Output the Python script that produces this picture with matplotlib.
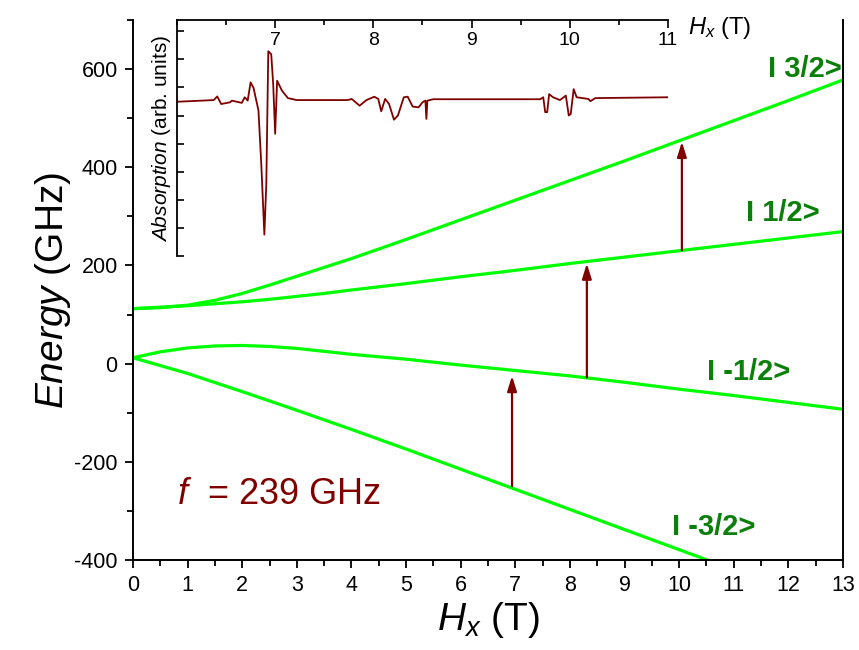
import matplotlib
matplotlib.use('Agg')
import matplotlib.pyplot as plt
from matplotlib.ticker import MultipleLocator

plt.rcParams['font.family'] = ['Liberation Sans', 'DejaVu Sans']
plt.rcParams['mathtext.fontset'] = 'custom'
plt.rcParams['mathtext.rm'] = 'Liberation Sans'
plt.rcParams['mathtext.it'] = 'Liberation Sans:italic'
plt.rcParams['axes.unicode_minus'] = False

# energy levels (GHz) vs field Hx (T)
field = [0, 0.5, 1, 1.5, 2, 2.5, 3, 3.5, 4, 5, 6, 7, 8, 9, 10, 11, 12, 13]
level_p32 = [112, 114, 119, 129, 143, 160, 178, 196, 214, 253, 293, 333, 373, 413, 454, 495, 536, 578]
level_p12 = [112, 115, 118, 122, 126, 131, 137, 143, 150, 163, 177, 190, 204, 217, 230, 243, 256, 269]
level_m12 = [12, 24, 32, 36, 37, 35, 31, 25, 19, 9, -3, -14, -25, -38, -52, -65, -79, -93]
field_m32 = [0, 1, 2, 3, 4, 5, 6, 7, 8, 9, 10, 11]
level_m32 = [12, -20, -57, -95, -134, -174, -215, -256, -297, -338, -379, -420]

# transitions at f = 239 GHz
arrow_x = [6.94, 8.31, 10.05]
arrow_from = [-250, -28, 231]
arrow_to = [-25, 204, 452]

level_names = ['I 3/2>', 'I 1/2>', 'I -1/2>', 'I -3/2>']
name_x = [12.97, 12.58, 12.03, 11.39]
name_y = [600, 306, -17, -333]

# inset: absorption spectrum (arb. units)
spec_field = [6.0, 6.375, 6.41, 6.45, 6.54, 6.56, 6.66, 6.69, 6.72, 6.75,
              6.78, 6.83, 6.86, 6.89, 6.91, 6.93, 6.96, 6.98, 7.0, 7.02,
              7.07, 7.13, 7.22, 7.74, 7.78, 7.86, 7.93, 8.01, 8.05, 8.08,
              8.12, 8.16, 8.21, 8.25, 8.31, 8.35, 8.40, 8.46, 8.50, 8.53,
              8.54, 8.55, 8.61, 9.70, 9.73, 9.75, 9.77, 9.79, 9.83, 9.90,
              9.96, 9.99, 10.01, 10.04, 10.07, 10.19, 10.21, 10.26, 11.0]
spec_abs = [5.49, 5.55, 5.68, 5.41, 5.47, 5.53, 5.45, 5.65, 5.53, 6.18,
            5.98, 5.18, 3.18, 0.76, 2.59, 7.29, 7.18, 6.12, 4.35, 6.24,
            5.88, 5.62, 5.55, 5.55, 5.59, 5.35, 5.55, 5.67, 5.59, 5.15,
            5.59, 5.41, 4.85, 5.00, 5.65, 5.67, 5.32, 5.29, 5.47, 5.53,
            4.88, 5.53, 5.58, 5.58, 5.65, 5.12, 5.12, 5.76, 5.65, 5.55,
            5.71, 5.00, 5.06, 5.94, 5.65, 5.59, 5.51, 5.62, 5.65]
inset_ticks = [7, 8, 9, 10, 11]

GREEN = '#00ff00'
DARKGREEN = '#0a800a'
DARKRED = '#800000'

fig = plt.figure(figsize=(8.59, 6.5), dpi=100)
ax = fig.add_axes([0.1548, 0.1385, 0.8266, 0.8307])

ax.plot(field, level_p32, color=GREEN, lw=2.3)
ax.plot(field, level_p12, color=GREEN, lw=2.3)
ax.plot(field, level_m12, color=GREEN, lw=2.3)
ax.plot(field_m32, level_m32, color=GREEN, lw=2.3)

for x, y0, y1 in zip(arrow_x, arrow_from, arrow_to):
    ax.annotate('', xy=(x, y1), xytext=(x, y0),
                arrowprops=dict(arrowstyle='-|>,head_length=0.9,head_width=0.28',
                                color=DARKRED, lw=1.6, shrinkA=0, shrinkB=0))

for name, x, y in zip(level_names, name_x, name_y):
    ax.text(x, y, name, color=DARKGREEN, fontsize=21, fontweight='bold',
            ha='right', va='center')

ax.text(2.67, -266, r'$f$  = 239 GHz', color=DARKRED, fontsize=26,
        ha='center', va='center')

ax.set_xlim(0, 13)
ax.set_ylim(-400, 700)
ax.xaxis.set_major_locator(MultipleLocator(1))
ax.xaxis.set_minor_locator(MultipleLocator(0.5))
ax.yaxis.set_major_locator(MultipleLocator(200))
ax.yaxis.set_minor_locator(MultipleLocator(100))
ax.tick_params(which='major', direction='out', length=6, width=1.3, labelsize=15.5, pad=5)
ax.tick_params(which='minor', direction='out', length=4, width=1.3)
ax.spines['top'].set_visible(False)
for s in ['left', 'bottom', 'right']:
    ax.spines[s].set_linewidth(1.4)
ax.set_xlabel(r'$H_x$ (T)', fontsize=28, labelpad=3)
ax.set_ylabel(r'$Energy$ (GHz)', fontsize=28, labelpad=1)

# inset
axi = fig.add_axes([0.206, 0.6062, 0.5716, 0.363])
axi.patch.set_alpha(0)
axi.plot(spec_field, spec_abs, color=DARKRED, lw=1.3)
axi.set_xlim(6, 11)
axi.set_ylim(0, 8.4)
axi.spines['right'].set_visible(False)
axi.spines['bottom'].set_visible(False)
axi.spines['top'].set_linewidth(1.3)
axi.spines['left'].set_linewidth(1.3)
axi.xaxis.set_ticks_position('top')
axi.set_xticks(inset_ticks)
axi.xaxis.set_minor_locator(MultipleLocator(0.5))
axi.tick_params(axis='x', which='major', direction='in', length=6, width=1.2,
                labelsize=14, pad=-21)
axi.tick_params(axis='x', which='minor', direction='in', length=3.5, width=1.2)
axi.yaxis.set_major_locator(MultipleLocator(1))
axi.tick_params(axis='y', which='major', direction='in', length=5, width=1.2,
                labelleft=False)
axi.set_ylabel(r'$Absorption$ (arb. units)', fontsize=15, labelpad=3)
axi.text(1.04, 0.965, r'$H_x$ (T)', transform=axi.transAxes, fontsize=17,
         ha='left', va='center')

fig.savefig('out.png', dpi=100)
